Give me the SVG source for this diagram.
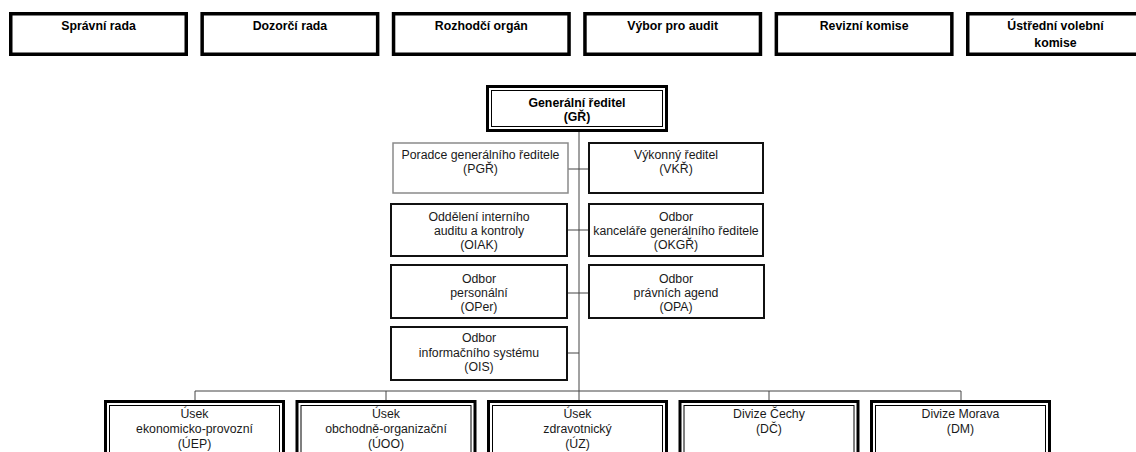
<svg xmlns="http://www.w3.org/2000/svg" width="1136" height="452" viewBox="0 0 1136 452">
<style>
.top{fill:#fff;stroke:#000;stroke-width:3.5}
.dbl{fill:#fff;stroke:#000;stroke-width:3}
.inn{fill:none;stroke:#000;stroke-width:1}
.box{fill:#fff;stroke:#111;stroke-width:2}
.gbox{fill:#fff;stroke:#8a8a8a;stroke-width:1.5}
.conn{fill:none;stroke:#444;stroke-width:1}
text{font-family:"Liberation Sans",Arial,sans-serif;font-size:12.3px;text-anchor:middle;fill:#1a1a1a}
.b{font-weight:bold;fill:#000}
</style>
<rect width="1136" height="452" fill="#fff"/>
<g id="connectors">
<path class="conn" d="M579,132V400M568,169H589M567,230H589M567,293H589M567,353H579M195,391H961M195,391V400M386,391V400M769,391V400M961,391V400"/>
</g>
<g id="spravni-rada"><rect class="top" x="10.75" y="13.75" width="175.5" height="40.5"/><text class="b" x="98.5" y="30">Správní rada</text></g>
<g id="dozorci-rada"><rect class="top" x="202.15" y="13.75" width="175.5" height="40.5"/><text class="b" x="289.9" y="30">Dozorčí rada</text></g>
<g id="rozhodci-organ"><rect class="top" x="393.55" y="13.75" width="175.5" height="40.5"/><text class="b" x="481.3" y="30">Rozhodčí orgán</text></g>
<g id="vybor-pro-audit"><rect class="top" x="584.95" y="13.75" width="175.5" height="40.5"/><text class="b" x="672.7" y="30">Výbor pro audit</text></g>
<g id="revizni-komise"><rect class="top" x="776.35" y="13.75" width="175.5" height="40.5"/><text class="b" x="864.1" y="30">Revizní komise</text></g>
<g id="ustredni-volebni-komise"><rect class="top" x="967.75" y="13.75" width="175.5" height="40.5"/><text class="b" x="1055.5" y="30">Ústřední volební</text><text class="b" x="1055.5" y="46.5">komise</text></g>
<g id="gr"><rect class="dbl" x="487.5" y="86.5" width="179" height="44"/><rect class="inn" x="491.5" y="90.5" width="171" height="36"/><text class="b" x="577" y="107">Generální ředitel</text><text class="b" x="577" y="121">(GŘ)</text></g>
<g id="pgr"><rect class="gbox" x="393" y="143" width="175" height="50"/><text x="480.5" y="159">Poradce generálního ředitele</text><text x="480.5" y="173">(PGŘ)</text></g>
<g id="vkr"><rect class="box" x="589" y="143" width="174" height="50"/><text x="676" y="159">Výkonný ředitel</text><text x="676" y="173">(VKŘ)</text></g>
<g id="oiak"><rect class="box" x="391" y="204" width="176" height="52"/><text x="479" y="221">Oddělení interního</text><text x="479" y="235">auditu a kontroly</text><text x="479" y="249">(OIAK)</text></g>
<g id="okgr"><rect class="box" x="589" y="204" width="174" height="52"/><text x="676" y="221">Odbor</text><text x="676" y="235">kanceláře generálního ředitele</text><text x="676" y="249">(OKGŘ)</text></g>
<g id="oper"><rect class="box" x="391" y="265" width="176" height="53"/><text x="479" y="282.5">Odbor</text><text x="479" y="296.5">personální</text><text x="479" y="311">(OPer)</text></g>
<g id="opa"><rect class="box" x="589" y="265" width="175" height="53"/><text x="676" y="282.5">Odbor</text><text x="676" y="296.5">právních agend</text><text x="676" y="311">(OPA)</text></g>
<g id="ois"><rect class="box" x="391" y="327" width="176" height="53"/><text x="479" y="342">Odbor</text><text x="479" y="356.5">informačního systému</text><text x="479" y="371">(OIS)</text></g>
<g id="uep"><rect class="dbl" x="105.5" y="401.5" width="178" height="70"/><rect class="inn" x="109.5" y="405.5" width="170" height="70"/><text x="194.5" y="418">Úsek</text><text x="194.5" y="433">ekonomicko-provozní</text><text x="194.5" y="448">(ÚEP)</text></g>
<g id="uoo"><rect class="dbl" x="297" y="401.5" width="178" height="70"/><rect class="inn" x="301" y="405.5" width="170" height="70"/><text x="386" y="418">Úsek</text><text x="386" y="433">obchodně-organizační</text><text x="386" y="448">(ÚOO)</text></g>
<g id="uz"><rect class="dbl" x="488.5" y="401.5" width="178" height="70"/><rect class="inn" x="492.5" y="405.5" width="170" height="70"/><text x="577.5" y="418">Úsek</text><text x="577.5" y="433">zdravotnický</text><text x="577.5" y="448">(ÚZ)</text></g>
<g id="dc"><rect class="dbl" x="680" y="401.5" width="178" height="70"/><rect class="inn" x="684" y="405.5" width="170" height="70"/><text x="769" y="418">Divize Čechy</text><text x="769" y="433">(DČ)</text></g>
<g id="dm"><rect class="dbl" x="871.5" y="401.5" width="178" height="70"/><rect class="inn" x="875.5" y="405.5" width="170" height="70"/><text x="960.5" y="418">Divize Morava</text><text x="960.5" y="433">(DM)</text></g>
</svg>
